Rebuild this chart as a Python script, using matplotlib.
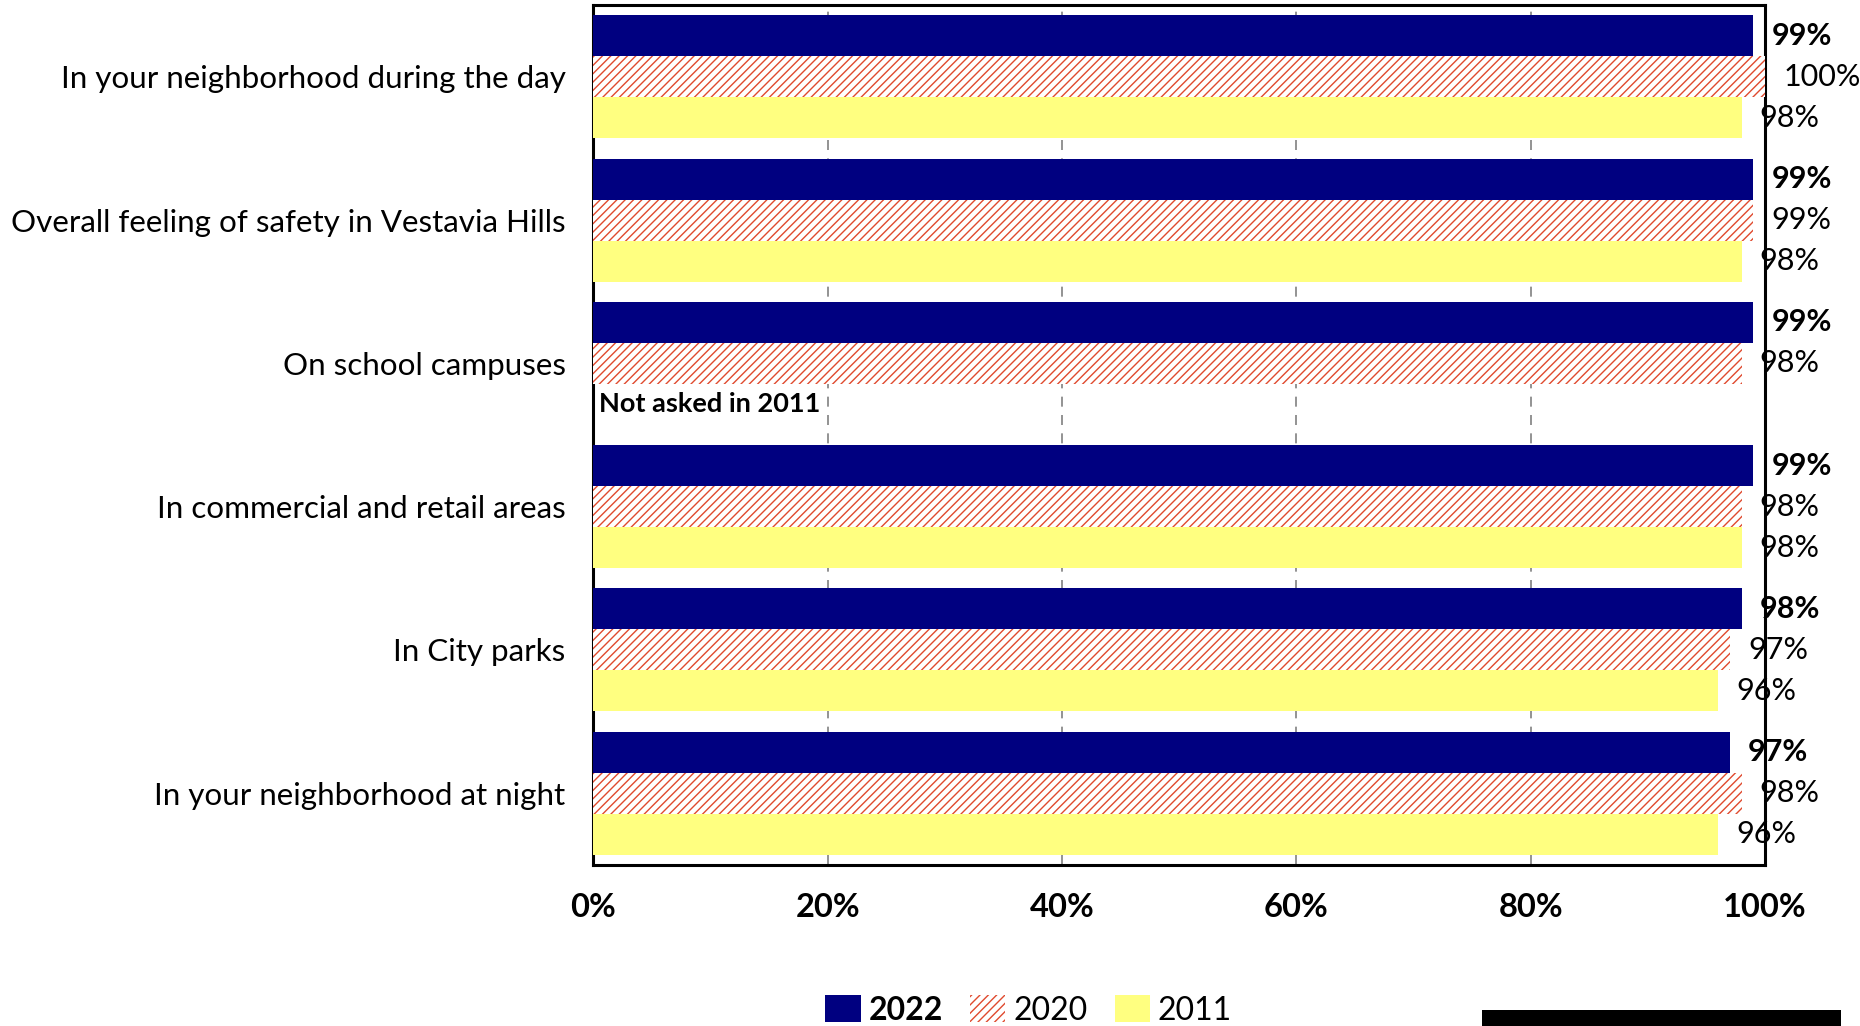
import matplotlib.pyplot as plt
import matplotlib.patches as mpatches
import numpy as np

plt.rcParams['font.family'] = ['Lato', 'DejaVu Sans']

# Survey results: share feeling safe, by year
categories = ["In your neighborhood during the day",
              "Overall feeling of safety in Vestavia Hills",
              "On school campuses",
              "In commercial and retail areas",
              "In City parks",
              "In your neighborhood at night"]
v2022 = [99, 99, 99, 99, 98, 97]
v2020 = [100, 99, 98, 98, 97, 98]
v2011 = [98, 98, None, 98, 96, 96]
xticks = [0, 20, 40, 60, 80, 100]

navy = '#000080'
yellow = '#FFFF80'
red = '#E04A2E'

fig = plt.figure(figsize=(18.6, 10.26), dpi=100)
ax = fig.add_axes([0.319, 0.157, 0.630, 0.838])

y = np.arange(len(categories))
h = 0.286

ax.barh(y - h, v2022, height=h, color=navy, zorder=3)
ax.barh(y, v2020, height=h, color='white', edgecolor=red, hatch='////',
        linewidth=0, zorder=3)
y11 = [yy + h for yy, v in zip(y, v2011) if v is not None]
x11 = [v for v in v2011 if v is not None]
ax.barh(y11, x11, height=h, color=yellow, zorder=3)

fs = 22
for yy, v in zip(y, v2022):
    ax.annotate(f'{v}%', (v, yy - h), xytext=(13, 0), textcoords='offset points',
                ha='left', va='center', fontsize=fs, fontweight='bold',
                annotation_clip=False)
for yy, v in zip(y, v2020):
    ax.annotate(f'{v}%', (v, yy), xytext=(13, 0), textcoords='offset points',
                ha='left', va='center', fontsize=fs, annotation_clip=False)
for yy, v in zip(y, v2011):
    if v is None:
        ax.annotate('Not asked in 2011', (0, yy + h), xytext=(4, 0),
                    textcoords='offset points', ha='left', va='center',
                    fontsize=19.5, fontweight='bold')
        continue
    ax.annotate(f'{v}%', (v, yy + h), xytext=(13, 0), textcoords='offset points',
                ha='left', va='center', fontsize=fs, annotation_clip=False)

ax.set_xlim(0, 100)
ax.set_ylim(len(categories) - 0.5, -0.5)
ax.set_xticks(xticks)
ax.set_xticklabels([f'{t}%' for t in xticks], fontsize=23.5, fontweight='bold')
ax.set_yticks(y)
ax.set_yticklabels(categories, fontsize=22.6)
ax.tick_params(axis='y', length=0, pad=20)
ax.tick_params(axis='x', length=0, pad=20)

ax.grid(axis='x', color='#808080', linestyle=(0, (6, 5)), linewidth=1.2, zorder=0)
for s in ax.spines.values():
    s.set_linewidth(2.2)
    s.set_color('black')

handles = [mpatches.Patch(facecolor=navy, label='2022'),
           mpatches.Patch(facecolor='white', edgecolor=red, hatch='////',
                          linewidth=0, label='2020'),
           mpatches.Patch(facecolor=yellow, label='2011')]
leg = fig.legend(handles=handles, loc='center', bbox_to_anchor=(0.553, 0.015),
                 ncol=3, frameon=False, fontsize=23, handlelength=1.1,
                 handleheight=0.9, handletextpad=0.25, columnspacing=0.85,
                 borderaxespad=0, borderpad=0)
leg.get_texts()[0].set_fontweight('bold')

# black strip along the lower right edge
fig.patches.append(mpatches.Rectangle((0.797, 0.0), 0.193, 0.016,
                                      transform=fig.transFigure,
                                      facecolor='black', edgecolor='none'))

fig.savefig('out.png', dpi=100)
